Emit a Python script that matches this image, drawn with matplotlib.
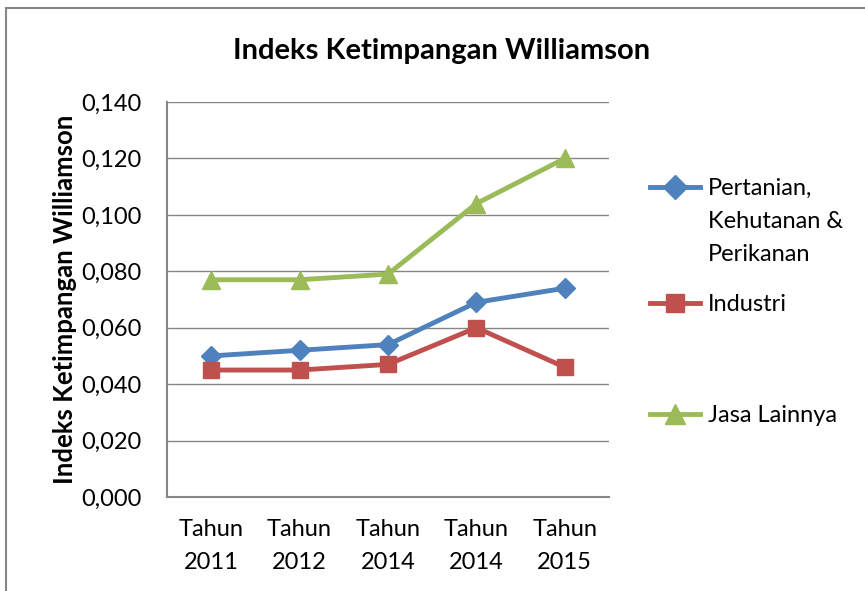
import matplotlib.pyplot as plt
from matplotlib.patches import Rectangle
from matplotlib.lines import Line2D
from matplotlib.ticker import FuncFormatter

plt.rcParams['font.family'] = ['Lato', 'DejaVu Sans']

years = ["Tahun\n2011", "Tahun\n2012", "Tahun\n2014", "Tahun\n2014", "Tahun\n2015"]
pertanian = [0.050, 0.052, 0.054, 0.069, 0.074]
industri = [0.045, 0.045, 0.047, 0.060, 0.046]
jasa = [0.077, 0.077, 0.079, 0.104, 0.120]

series = [
    ("Pertanian,\nKehutanan &\nPerikanan", pertanian, "#4F81BD", "D", 10),
    ("Industri", industri, "#C0504D", "s", 11),
    ("Jasa Lainnya", jasa, "#9BBB59", "^", 13),
]
# legend rows (pixel y of marker from top)
legend_y = [187, 303, 414]

W, H = 865, 591
fig = plt.figure(figsize=(W / 100, H / 100), dpi=100)
# outer chart border
fig.patches.append(Rectangle((6 / W, -0.1), 1.1, 1 - 8 / H + 0.1, transform=fig.transFigure,
                             fill=False, edgecolor="#868686", linewidth=1.5))

ax = fig.add_axes([167 / W, 1 - 497 / H, 442 / W, 395 / H])
x = range(len(years))
for label, vals, color, marker, ms in series:
    ax.plot(x, vals, color=color, linewidth=3.5, marker=marker, markersize=ms, zorder=3)

ax.set_xlim(-0.5, len(years) - 0.5)
ax.set_ylim(0, 0.14)
ax.set_yticks([i * 0.02 for i in range(8)])
ax.yaxis.set_major_formatter(FuncFormatter(lambda v, p: f"{v:.3f}".replace(".", ",")))
ax.set_xticks(list(x))
ax.set_xticklabels(years, linespacing=1.7)
ax.tick_params(axis='x', length=0, labelsize=17, pad=16)
ax.tick_params(axis='y', length=0, labelsize=17, pad=18)
ax.grid(axis='y', color="#868686", linewidth=1)
ax.set_axisbelow(True)
for s in ["top", "right"]:
    ax.spines[s].set_visible(False)
for s in ["left", "bottom"]:
    ax.spines[s].set_color("#868686")
    ax.spines[s].set_linewidth(1.5)

ax.set_ylabel("Indeks Ketimpangan Williamson", fontsize=18.5, fontweight="bold", labelpad=3)
fig.text(442 / W, 1 - 51 / H, "Indeks Ketimpangan Williamson", fontsize=21,
         fontweight="bold", ha="center", va="center")

# legend drawn by hand so the marker sits on the first text line like the original
for (label, vals, color, marker, ms), py in zip(series, legend_y):
    fy = 1 - py / H
    fig.lines.append(Line2D([650 / W, 700 / W], [fy, fy], transform=fig.transFigure,
                            color=color, linewidth=3.5))
    fig.lines.append(Line2D([675 / W], [fy], transform=fig.transFigure, color=color,
                            marker=marker, markersize=ms + 2, linestyle="none"))
    fig.text(708 / W, 1 - (py - 9) / H, label, fontsize=17, ha="left", va="top",
             linespacing=1.7)

fig.savefig("out.png", dpi=100)
